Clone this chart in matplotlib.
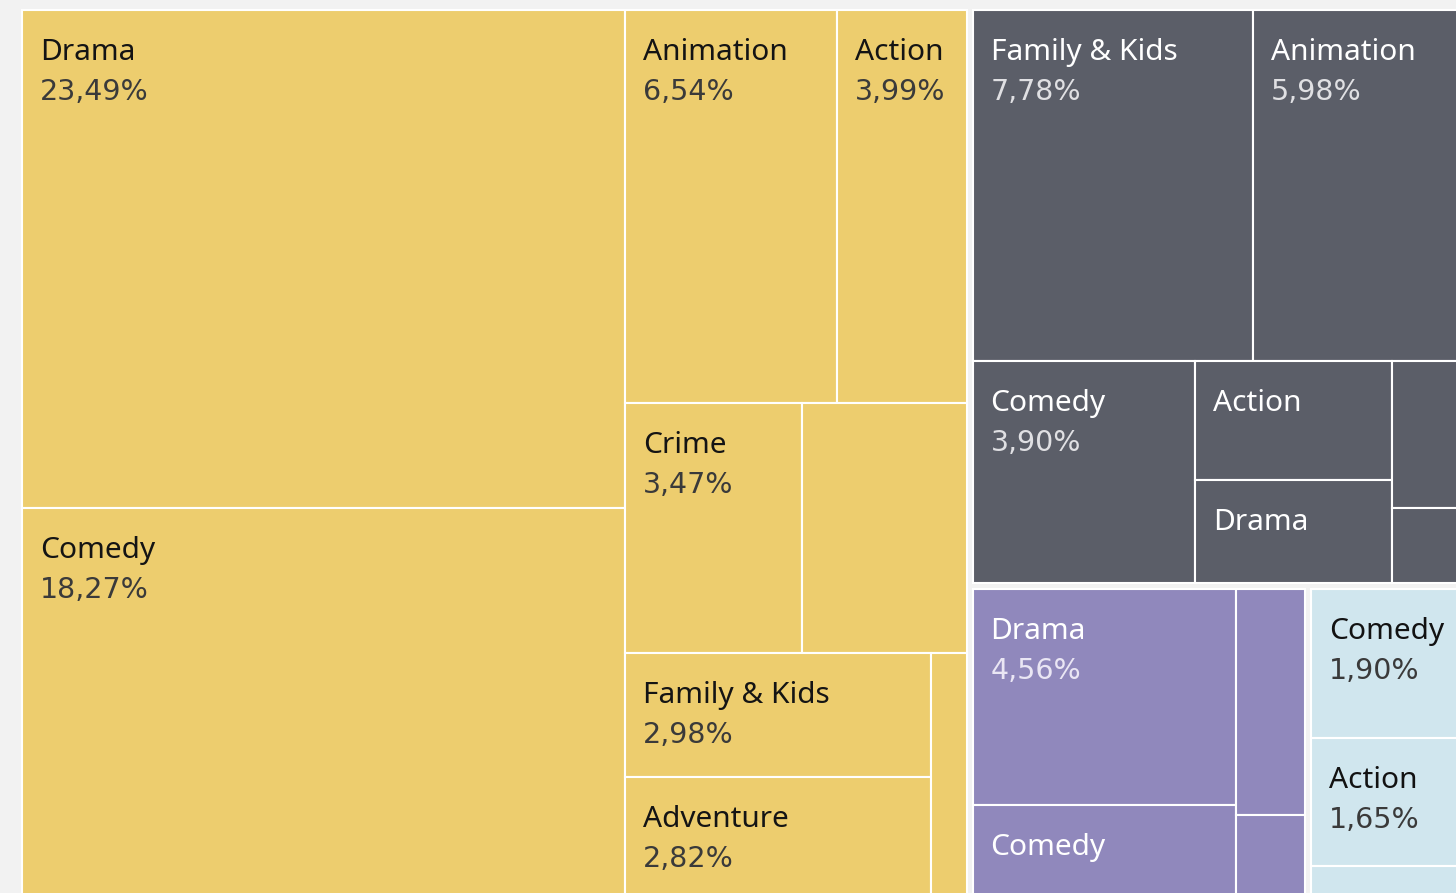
import matplotlib
matplotlib.use("Agg")
import matplotlib.pyplot as plt
from matplotlib.patches import Rectangle

# ---------------- data (share of total, %) ----------------
group_names = ["Group A", "Group B", "Group C", "Group D"]

yellow_genres = ["Drama", "Comedy", "Animation", "Action", "Crime", "Documentary",
                 "Family & Kids", "Adventure", "Horror"]
yellow_share = [23.49, 18.27, 6.54, 3.99, 3.47, 3.21, 2.98, 2.82, 0.68]
yellow_show_pct = [True, True, True, True, True, True, True, True, True]

gray_genres = ["Family & Kids", "Animation", "Comedy", "Action", "Drama", "Crime", "Adventure"]
gray_share = [7.78, 5.98, 3.90, 1.84, 1.62, 0.88, 0.45]
gray_show_pct = [True, True, True, False, False, True, True]

purple_genres = ["Drama", "Comedy", "Action", "Animation"]
purple_share = [4.56, 1.90, 1.25, 0.44]
purple_show_pct = [True, True, True, True]

blue_genres = ["Comedy", "Action", "Drama"]
blue_share = [1.90, 1.65, 0.37]
blue_show_pct = [True, True, True]

# ---------------- styles ----------------
group_colors = ["#EDCD6E", "#5B5E68", "#9088BC", "#D0E6EE"]
name_colors = ["#141414", "#FFFFFF", "#FFFFFF", "#121212"]
pct_colors = ["#3A3A3A", "#E0E0E3", "#EAE6F4", "#3A3A3A"]
NAME_FONT = ["Noto Sans", "DejaVu Sans"]
PCT_FONT = ["DejaVu Sans"]
NAME_FS = 21.5
PCT_FS = 20.5

groups = [
    (yellow_genres, yellow_share, yellow_show_pct),
    (gray_genres, gray_share, gray_show_pct),
    (purple_genres, purple_share, purple_show_pct),
    (blue_genres, blue_share, blue_show_pct),
]


def worst(row, length, k=2.5):
    s = sum(row)
    t = s / length
    w = 0.0
    for a in row:
        l = a / t
        w = max(w, t / l, k * l / t)
    return w


def squarify(values, x, y, w, h, k=2.5, tie=1.05):
    total = sum(values)
    areas = [v / total * w * h for v in values]
    rects = []
    i = 0
    while i < len(areas):
        horizontal = w <= h * tie
        L = w if horizontal else h
        row = [areas[i]]
        j = i + 1
        while j < len(areas) and worst(row + [areas[j]], L, k) < worst(row, L, k):
            row.append(areas[j])
            j += 1
        t = sum(row) / L
        pos = 0.0
        for a in row:
            l = a / t
            if horizontal:
                rects.append((x + pos, y, l, t))
            else:
                rects.append((x, y + pos, t, l))
            pos += l
        if horizontal:
            y += t
            h -= t
        else:
            x += t
            w -= t
        i = j
    return rects


def fmt(v):
    return f"{v:.2f}".replace(".", ",") + "%"


W_PX, H_PX = 1456, 893
fig = plt.figure(figsize=(W_PX / 100, H_PX / 100), dpi=100, facecolor="#F2F2F2")

LW, LH = 1452.0, 891.0          # layout extent in pixels
left_px, top_px = 19.0, 7.0
ax = fig.add_axes([left_px / W_PX, (H_PX - top_px - LH) / H_PX, LW / W_PX, LH / H_PX])
ax.set_xlim(0, LW)
ax.set_ylim(LH, 0)
ax.axis("off")
ax.set_facecolor("none")

renderer = fig.canvas.get_renderer()
GAP = 3.0
PADX, NAME_DY, PCT_DY = 18.0, 50.0, 90.0

group_totals = [sum(g[1]) for g in groups]
order = sorted(range(len(groups)), key=lambda i: -group_totals[i])
grects = squarify([group_totals[i] for i in order], 0, 0, LW, LH)

for gi, (gx, gy, gw, gh) in zip(order, grects):
    genres, shares, show_pct = groups[gi]
    gx, gy, gw, gh = gx + GAP, gy + GAP, gw - 2 * GAP, gh - 2 * GAP
    idx = sorted(range(len(shares)), key=lambda i: -shares[i])
    crects = squarify([shares[i] for i in idx], gx, gy, gw, gh)
    for ci, (cx, cy, cw, ch) in zip(idx, crects):
        ax.add_patch(Rectangle((cx, cy), cw, ch, facecolor=group_colors[gi],
                               edgecolor="white", linewidth=1.5))
        if ch < 62:
            continue
        tn = ax.text(cx + PADX, cy + NAME_DY, genres[ci], fontsize=NAME_FS, family=NAME_FONT,
                     color=name_colors[gi], va="baseline", ha="left")
        bb = tn.get_window_extent(renderer=renderer)
        if bb.width + PADX + 4 > cw:
            tn.remove()
            continue
        if show_pct[ci] and ch >= 100:
            ax.text(cx + PADX, cy + PCT_DY, fmt(shares[ci]), fontsize=PCT_FS, family=PCT_FONT,
                    color=pct_colors[gi], va="baseline", ha="left")

fig.savefig("out.png", dpi=100, facecolor=fig.get_facecolor())
